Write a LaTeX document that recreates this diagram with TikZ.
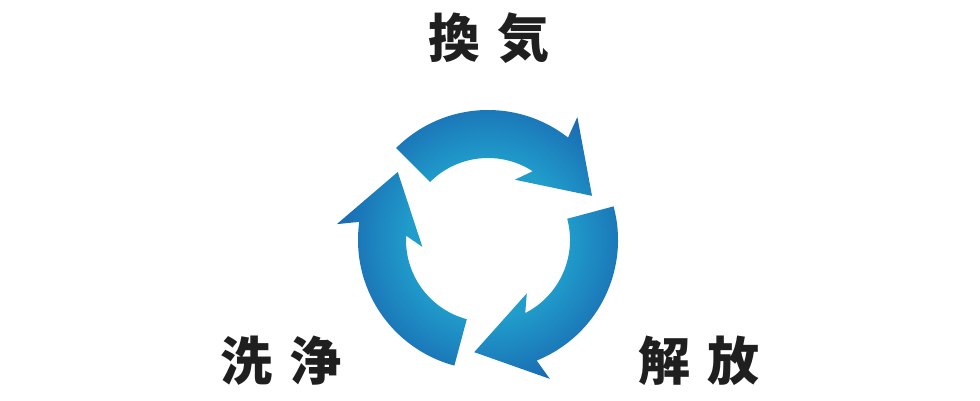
\documentclass[tikz,border=0pt]{standalone}
\usepackage{fontspec}
\usepackage{xcolor}
\newfontfamily\jpfont{Noto Sans CJK JP}
\definecolor{cycleLight}{HTML}{209DCB}
\definecolor{cycleDark}{HTML}{1A6DB3}
\pgfdeclareradialshading{ringshade}{\pgfpoint{0bp}{0bp}}{color(0bp)=(cycleLight); color(7.5bp)=(cycleLight); color(14bp)=(cycleDark); color(50bp)=(cycleDark)}
\tikzset{word/.style={font={\jpfont\bfseries\fontsize{39pt}{39pt}\selectfont},text=black!88}}

\begin{document}
\begin{tikzpicture}[x=0.75pt,y=0.75pt]
        \useasboundingbox (0,0) rectangle (980,400);
        \begin{scope}[shift={(488,160)}]
            \clip \foreach \t in {135,15,-105}{
                (\t:130) arc[start angle=\t, end angle=\t-83, radius=130] -- (\t-81:152) -- (\t-112:113)
                -- (\t-69:66) -- (\t-78:82) arc[start angle=\t-78, end angle=\t, radius=82] -- cycle
            };
            \shade[shading=ringshade] (0,0) circle (260);
        \end{scope}
        \node[word] (vent) at (489,362) {換\hspace{13pt}気};
        \node[word] (wash) at (281,39) {洗\hspace{13pt}浄};
        \node[word] (free) at (699,39) {解\hspace{13pt}放};
    \end{tikzpicture}
\end{document}
